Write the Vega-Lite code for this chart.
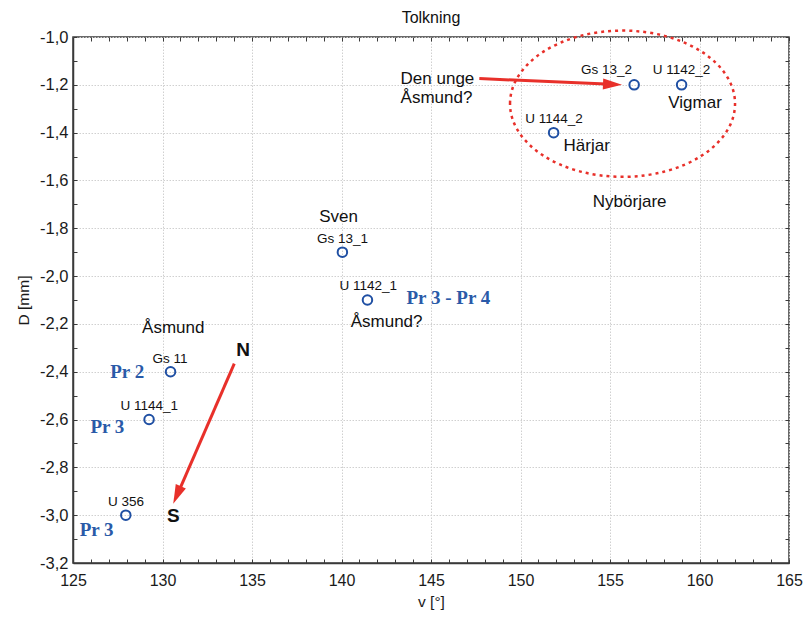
{
  "$schema": "https://vega.github.io/schema/vega-lite/v6.json",
  "width": 716,
  "height": 526,
  "autosize": {"type": "none"},
  "padding": {"left": 73, "top": 37, "right": 15, "bottom": 61},
  "background": "white",
  "title": {"text": "Tolkning", "font": "Liberation Sans", "fontSize": 16, "fontWeight": "normal", "color": "#111", "offset": 0},
  "config": {
    "view": {"stroke": "#3a3a3a", "strokeWidth": 1.5},
    "axis": {
      "labelFont": "Liberation Sans", "labelFontSize": 16, "labelColor": "#1a1a1a", "labelFlush": false,
      "titleFont": "Liberation Sans", "titleFontSize": 15.5, "titleFontWeight": "normal", "titleColor": "#1a1a1a",
      "domainColor": "#3a3a3a", "domainWidth": 1.5, "tickColor": "#3a3a3a", "tickWidth": 1, "tickSize": -4,
      "gridColor": "#d0d0d0", "gridDash": [1.5, 1.5], "gridWidth": 1, "labelOverlap": false
    }
  },
  "datasets": {
    "pts": [
      {"id": "Gs 13_2", "v": 156.35, "D": -1.2},
      {"id": "U 1142_2", "v": 159.0, "D": -1.2},
      {"id": "U 1144_2", "v": 151.85, "D": -1.4},
      {"id": "Gs 13_1", "v": 140.05, "D": -1.9},
      {"id": "U 1142_1", "v": 141.45, "D": -2.1},
      {"id": "Gs 11", "v": 130.45, "D": -2.4},
      {"id": "U 1144_1", "v": 129.25, "D": -2.6},
      {"id": "U 356", "v": 127.95, "D": -3.0}
    ],
    "labels": [
      {"kind": "id", "text": "Gs 13_2", "v": 154.8, "D": -1.139},
      {"kind": "id", "text": "U 1142_2", "v": 159.0, "D": -1.139},
      {"kind": "id", "text": "U 1144_2", "v": 151.87, "D": -1.342},
      {"kind": "id", "text": "Gs 13_1", "v": 140.05, "D": -1.844},
      {"kind": "id", "text": "U 1142_1", "v": 141.5, "D": -2.043},
      {"kind": "id", "text": "Gs 11", "v": 130.42, "D": -2.345},
      {"kind": "id", "text": "U 1144_1", "v": 129.26, "D": -2.545},
      {"kind": "id", "text": "U 356", "v": 127.96, "D": -2.945},
      {"kind": "name", "text": "Vigmar", "v": 159.75, "D": -1.278},
      {"kind": "name", "text": "Härjar", "v": 153.7, "D": -1.457},
      {"kind": "name", "text": "Nybörjare", "v": 156.1, "D": -1.69},
      {"kind": "name", "text": "Sven", "v": 139.84, "D": -1.754},
      {"kind": "name", "text": "Åsmund?", "v": 142.52, "D": -2.193},
      {"kind": "name", "text": "Åsmund", "v": 130.6, "D": -2.217},
      {"kind": "callout", "text": "Den unge\nÅsmund?", "v": 143.3, "D": -1.176},
      {"kind": "pr", "text": "Pr 2", "v": 128.03, "D": -2.401},
      {"kind": "pr", "text": "Pr 3", "v": 126.92, "D": -2.631},
      {"kind": "pr", "text": "Pr 3", "v": 126.32, "D": -3.061},
      {"kind": "pr", "text": "Pr 3 - Pr 4", "v": 145.97, "D": -2.091},
      {"kind": "dir", "text": "N", "v": 134.51, "D": -2.31},
      {"kind": "dir", "text": "S", "v": 130.6, "D": -3.002}
    ],
    "arrows": [
      {"arrow": "Den unge Åsmund? → Gs 13_2", "v0": 147.7, "D0": -1.174, "v1": 155.1, "D1": -1.198, "vt": 155.67, "Dt": -1.2, "heading": 92.4},
      {"arrow": "N → S", "v0": 134.01, "D0": -2.366, "v1": 130.83, "D1": -2.914, "vt": 130.6, "Dt": -2.952, "heading": 203.5}
    ],
    "groups": [
      {"group": "Nybörjare", "v": 155.7, "D": -1.279}
    ]
  },
  "layer": [
    {
      "data": {"name": "pts"},
      "mark": {"type": "point", "shape": "circle", "filled": false, "stroke": "#1f4fa3", "strokeWidth": 2, "size": 90, "opacity": 1},
      "encoding": {
        "x": {"field": "v", "type": "quantitative", "scale": {"domain": [125, 165], "nice": false, "zero": false},
          "axis": {"orient": "bottom", "title": "v [°]", "titlePadding": 6, "labelPadding": 13,
            "values": [125,126,127,128,129,130,131,132,133,134,135,136,137,138,139,140,141,142,143,144,145,146,147,148,149,150,151,152,153,154,155,156,157,158,159,160,161,162,163,164,165],
            "labelExpr": "datum.value % 5 === 0 ? datum.label : ''",
            "grid": true,
            "gridOpacity": {"condition": {"test": "datum.value % 5 === 0", "value": 1}, "value": 0}}},
        "y": {"field": "D", "type": "quantitative", "scale": {"domain": [-3.2, -1.0], "nice": false, "zero": false},
          "axis": {"orient": "left", "title": "D [mm]", "titlePadding": 8, "labelPadding": 9, "labelFontSize": 16.5,
            "values": [-3.2,-3.1,-3.0,-2.9,-2.8,-2.7,-2.6,-2.5,-2.4,-2.3,-2.2,-2.1,-2.0,-1.9,-1.8,-1.7,-1.6,-1.5,-1.4,-1.3,-1.2,-1.1,-1.0],
            "labelExpr": "round(datum.value*10) % 2 === 0 ? replace(replace(format(datum.value, '.1f'), '.', ','), '\u2212', '-') : ''",
            "grid": true,
            "gridOpacity": {"condition": {"test": "round(datum.value*10) % 2 === 0", "value": 1}, "value": 0}}}
      }
    },
    {
      "data": {"name": "groups"},
      "mark": {"type": "point", "filled": false, "stroke": "#e8302a", "strokeWidth": 2.5, "strokeDash": [3, 4], "size": 50625, "opacity": 1,
        "shape": "M -1 0 C -1 -0.359 -0.552 -0.65 0 -0.65 C 0.552 -0.65 1 -0.359 1 0 C 1 0.359 0.552 0.65 0 0.65 C -0.552 0.65 -1 0.359 -1 0 Z"},
      "encoding": {
        "x": {"field": "v", "type": "quantitative",
          "axis": {"orient": "top", "title": null, "labels": false, "domain": false, "grid": false,
            "values": [125,126,127,128,129,130,131,132,133,134,135,136,137,138,139,140,141,142,143,144,145,146,147,148,149,150,151,152,153,154,155,156,157,158,159,160,161,162,163,164,165]}},
        "y": {"field": "D", "type": "quantitative",
          "axis": {"orient": "right", "title": null, "labels": false, "domain": false, "grid": false,
            "values": [-3.2,-3.1,-3.0,-2.9,-2.8,-2.7,-2.6,-2.5,-2.4,-2.3,-2.2,-2.1,-2.0,-1.9,-1.8,-1.7,-1.6,-1.5,-1.4,-1.3,-1.2,-1.1,-1.0]}}
      }
    },
    {
      "data": {"name": "arrows"},
      "mark": {"type": "rule", "color": "#e8302a", "strokeWidth": 3},
      "encoding": {
        "x": {"field": "v0", "type": "quantitative", "axis": null},
        "y": {"field": "D0", "type": "quantitative", "axis": null},
        "x2": {"field": "v1"},
        "y2": {"field": "D1"}
      }
    },
    {
      "data": {"name": "arrows"},
      "mark": {"type": "point", "filled": true, "color": "#e8302a", "opacity": 1, "size": 361, "strokeWidth": 0,
        "shape": "M 0 0 L 0.58 2 L -0.58 2 Z"},
      "encoding": {
        "x": {"field": "vt", "type": "quantitative", "axis": null},
        "y": {"field": "Dt", "type": "quantitative", "axis": null},
        "angle": {"field": "heading", "type": "quantitative", "scale": null}
      }
    },
    {
      "data": {"name": "labels"},
      "transform": [{"filter": "datum.kind === 'id'"}],
      "mark": {"type": "text", "font": "Liberation Sans", "fontSize": 13.5, "color": "#111", "align": "center", "baseline": "middle"},
      "encoding": {
        "x": {"field": "v", "type": "quantitative", "axis": null},
        "y": {"field": "D", "type": "quantitative", "axis": null},
        "text": {"field": "text"}
      }
    },
    {
      "data": {"name": "labels"},
      "transform": [{"filter": "datum.kind === 'name'"}],
      "mark": {"type": "text", "font": "Liberation Sans", "fontSize": 17, "color": "#111", "align": "center", "baseline": "middle"},
      "encoding": {
        "x": {"field": "v", "type": "quantitative", "axis": null},
        "y": {"field": "D", "type": "quantitative", "axis": null},
        "text": {"field": "text"}
      }
    },
    {
      "data": {"name": "labels"},
      "transform": [{"filter": "datum.kind === 'callout'"}],
      "mark": {"type": "text", "font": "Liberation Sans", "fontSize": 17, "color": "#111", "align": "left", "baseline": "middle", "lineBreak": "\n", "lineHeight": 19},
      "encoding": {
        "x": {"field": "v", "type": "quantitative", "axis": null},
        "y": {"field": "D", "type": "quantitative", "axis": null},
        "text": {"field": "text"}
      }
    },
    {
      "data": {"name": "labels"},
      "transform": [{"filter": "datum.kind === 'pr'"}],
      "mark": {"type": "text", "font": "Liberation Serif", "fontSize": 19, "fontWeight": "bold", "color": "#2a5aa8", "align": "center", "baseline": "middle"},
      "encoding": {
        "x": {"field": "v", "type": "quantitative", "axis": null},
        "y": {"field": "D", "type": "quantitative", "axis": null},
        "text": {"field": "text"}
      }
    },
    {
      "data": {"name": "labels"},
      "transform": [{"filter": "datum.kind === 'dir'"}],
      "mark": {"type": "text", "font": "Liberation Sans", "fontSize": 19, "fontWeight": "bold", "color": "#111", "align": "center", "baseline": "middle"},
      "encoding": {
        "x": {"field": "v", "type": "quantitative", "axis": null},
        "y": {"field": "D", "type": "quantitative", "axis": null},
        "text": {"field": "text"}
      }
    }
  ],
  "resolve": {"axis": {"x": "independent", "y": "independent"}}
}
